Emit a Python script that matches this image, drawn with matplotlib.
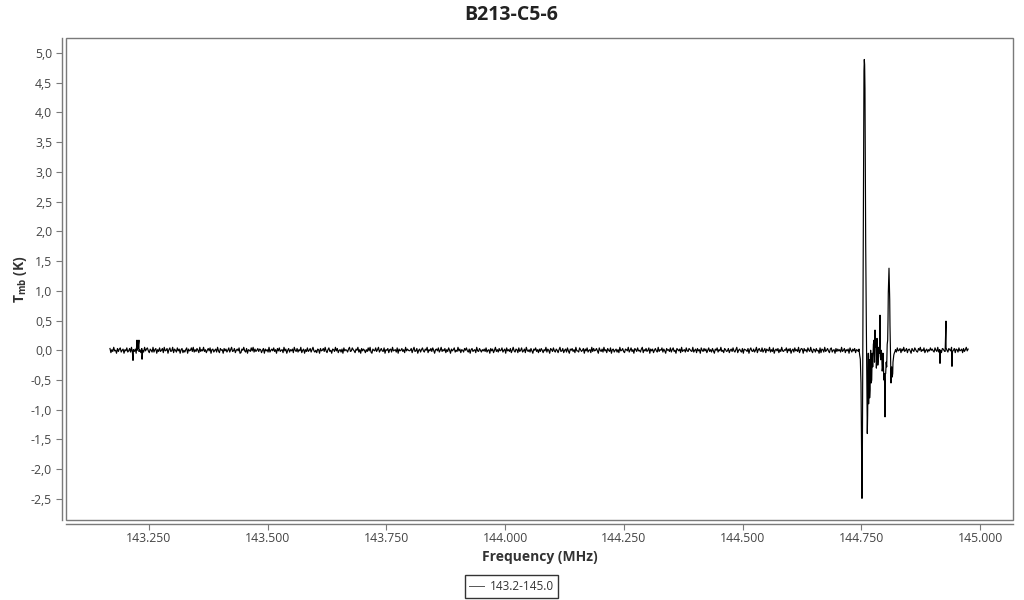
import numpy as np
import matplotlib
matplotlib.use("Agg")
import matplotlib.pyplot as plt
from matplotlib.ticker import FuncFormatter, MultipleLocator
from matplotlib.patches import Rectangle

plt.rcParams['font.family'] = ['Open Sans', 'DejaVu Sans']
plt.rcParams['mathtext.fontset'] = 'custom'
plt.rcParams['mathtext.rm'] = 'Open Sans'
plt.rcParams['mathtext.bf'] = 'Open Sans:bold'

title = "B213-C5-6"
series_name = "143.2-145.0"
x_label = "Frequency (MHz)"
y_label = r"$\mathbf{T_{mb}}$ (K)"

# baseline noise, left part (units: 0.01 K), channels from 143.168 to 144.742
left_start, left_stop = 143.168, 144.742
left_noise_cK = [
    3, -4, 1, -2, 5, -1, 0, -5, 3, -2, 2, 4, -3, 0, 2, -5, 1, -1, 4, -3,
    -1, 3, -3, 5, -4, 1, -2, 2, -5, 0, 4, -2, 1, -4, 3, 0, -3, 5, -1, 2,
    4, -1, -4, 2, 0, -3, 5, -3, 1, 3, -5, 1, -2, 4, -2, 0, 3, -4, 5, -1,
    0, 3, -5, 1, 4, -2, -1, 5, -4, 2, 0, -3, 4, -1, 2, -5, 1, 3, -4, 0,
    -3, 1, 4, -5, 2, -1, 0, 4, -2, 5, -3, 1, -2, 3, 0, -4, 5, -2, 1, -1,
    5, -2, 1, -4, 0, 3, -1, 4, -5, 1, 2, -3, 0, 2, -3, 5, -1, -4, 3, 0,
    1, -5, 3, -1, 2, -3, 0, 4, -3, 1, 5, -2, -1, 3, -4, 0, 2, -1, 4, -5,
    -4, 2, 0, 5, -1, -3, 3, -5, 1, 0, -2, 4, -1, 5, -3, 2, -2, 0, 3, -2,
    2, 1, -4, 0, 3, -5, 2, -1, 1, -3, 5, -3, 0, 2, -1, 4, -2, 1, -5, 3,
    -1, 4, -2, 0, 1, -4, 5, -1, 2, -5, 0, 3, -3, 1, -1, 2, -4, 5, 0, -2,
    3, -3, 1, -1, 5, -4, 0, 2, -5, 1, -2, 4, -2, 0, 3, -3, 1, 5, -1, -3,
    0, -4, 2, 1, -5, 3, -1, 0, 3, -2, 5, -1, -4, 1, 4, -2, 0, -5, 2, 1,
    -2, 5, -1, 3, -4, 0, 1, -3, 2, -5, 4, -1, 1, 0, -3, 2, 5, -2, -1, 4,
    1, -1, -4, 2, 0, 5, -3, 1, -5, 3, -1, 2, 0, -4, 1, -2, 4, -1, 5, -3,
    -5, 2, 0, -1, 4, -2, 1, 5, -3, 0, 3, -1, -2, 4, -5, 1, 0, 3, -4, 1,
    2, -3, 5, -1, 0, 1, -3, 4, -5, 2, -1, 0, 3, -2, 1, -4, 5, -1, 2, 0,
    -1, 0, 3, -4, 1, 5, -2, -1, 3, -5, 0, 2, -3, 1, 4, -1, -3, 2, 0, 5,
    -4, 1, -1, 3, -2, 4, 0, -5, 1, 2, -1, 4, -3, 0, 5, -2, 1, -1, 3, -4,
    1, -2, 4, 0, -5, 2, -1, 1, 4, -3, 0, -2, 5, -1, 2, -4, 1, 0, -3, 3,
    0, 4, -1, -3, 2, -5, 1, 3, -2, 0, 1, -4, 5, -1, -2, 3, 0, -3, 1, -1,
    2, -2, 4, -3, 0, 1, -5, 3, -1, 2, -4, 0, 5, -2, 1, -3, 3, -1, 0, 4,
    -3, 0, 2, -5, 4, -1, 1, -2, 3, -4, 0, 5, -1, -3, 2, 1, -4, 4, -2, 0,
    4, -3, -1, 2, -4, 5, 0, -2, 1, -3, 3, -1, -5, 2, 0, 4, -2, 1, -4, 2,
    -2, 3, 0, -4, 1, -1, 5, -3, 2, 0, -5, 3, 1, -2, 4, -1, -3, 2, 0, -4,
    1, 5, -2, -1, 3, -4, 0, 2, -3, 4, -1, -5, 2, 0, 3, -2, 1, -4, 5, -1,
    -1, -3, 4, 1, -2, 0, 3, -5, 2, -1, 4, -3, 0, 1, -4, 5, -2, 3, -1, 0,
    3, -1, -5, 4, 0, -2, 2, -3, 5, -1, 1, -4, 3, 0, -2, 4, -5, 1, 2, -3,
    0, 2, -3, 1, -4, 5, -1, 0, 3, -2, -4, 2, 1, -1, 5, -3, 0, 4, -2, 1,
    -5, 3, 1, -2, 4, -1, 0, -3, 2, 5, -4, 1, -1, 3, -2, 0, 4, -5, 2, -1,
    2, -4, 0, 3, -1, -3, 5, -2, 1, 0, 4, -3, 2, -1, -5, 3, 0, 1, -2, 4,
    -3, 1, 4, -2, 0, -5, 3, 1, -1, 2, -4, 5, -2, 0, 1, -3, 4, -1, -2, 3,
    1, -1, -2, 5, -3, 0, 2, -4, 3, -1, 1, -5, 4, 0, -2, 3, -1, 2, -4, 0,
    4, -2, 1, -3, 3, -1, -5, 2, 0, 4, -3, 1, -1, 5, -2, 0, -4, 3, 1, -2,
    -1, 3, -4, 0, 2, -2, 4, -1, -3, 1, 5, -4, 0, 2, -1, -3, 3, -5, 2, 1,
    0, -2, 3, -5, 1, 4, -1, -2, 2, -3, 0, 5, -4, 1, 3, -1, -2, 4, -3, 0,
    3, -4, 2, 0, -1, 5, -3, 1, -2, 4, -5, 0, 2, -1, 3, -4, 1, -2, 5, -1,
    -2, 1, 0, 4, -4, 2, -1, 3, -5, 0, 2, -3, 4, -1, 1, -2, 5, -4, 0, 3,
    2, -5, 3, -1, 1, -3, 4, 0, -2, 5, -1, -4, 2, 1, -3, 3, -1, 0, -5, 4,
    -4, 2, 1, -3, 5, -2, 0, 3, -1, -4, 2, 4, -3, 0, 1, -5, 3, -2, 2, -1,
    1, -3, 5, -2, 0, 3, -4, 1, -1, 2, -5, 4, 0, -3, 2, -1, 3, -4, 1, 0,
]

# baseline noise, right part (units: 0.01 K), channels from 144.822 to 144.975
right_start, right_stop = 144.822, 144.975
right_noise_cK = [
    1, -3, 4, -1, 0, 3, -4, 2, -1, 5, -2, 0, 3, -4, 1, 2, -1, -5, 3, 0,
    -2, 4, 1, -2, -3, 3, 0, 5, -2, 1, -1, 4, -4, 0, 2, -3, 1, -1, 4, 0,
    2, -1, -3, 4, 0, -2, 5, -3, 1, 0, -4, 3, 2, -1, -2, 4, 0, -3, 3, 1,
    -1, 5, -2, 0, 3, -4, 2, 1, -3, 4, -1, 0, 2, -4, 3, -2, 1, 5, -1, 2,
]

# isolated spikes
spike_freq = [143.2165, 143.2249, 143.2290, 143.2355, 144.9158, 144.9284, 144.9410]
spike_temp = [-0.17, 0.17, 0.17, -0.15, -0.22, 0.49, -0.27]

# line feature near 144.75 - 144.82
feature_freq = [
    144.7437, 144.7452, 144.7466, 144.7480, 144.7494, 144.7505, 144.7515, 144.7522,
    144.7530, 144.7537, 144.7543, 144.7550, 144.7557, 144.7564, 144.7571, 144.7578,
    144.7586, 144.7593, 144.7600, 144.7607, 144.7614, 144.7620, 144.7627, 144.7634,
    144.7641, 144.7648, 144.7655, 144.7662, 144.7669, 144.7676, 144.7684, 144.7691,
    144.7698, 144.7709, 144.7720, 144.7730, 144.7741, 144.7755, 144.7768, 144.7779,
    144.7789, 144.7800, 144.7810, 144.7818, 144.7825, 144.7831, 144.7837, 144.7848,
    144.7859, 144.7870, 144.7880, 144.7887, 144.7894, 144.7901, 144.7909, 144.7920,
    144.7930, 144.7941, 144.7951, 144.7958, 144.7964, 144.7975, 144.7985, 144.7993,
    144.8000, 144.8007, 144.8014, 144.8025, 144.8035, 144.8046, 144.8056, 144.8063,
    144.8069, 144.8077, 144.8084, 144.8091, 144.8099, 144.8105, 144.8111, 144.8119,
    144.8126, 144.8134, 144.8141, 144.8152, 144.8162, 144.8168, 144.8174, 144.8185,
    144.8195, 144.8210,
]
feature_temp = [
    -0.02, 0.02, -0.08, -0.15, -0.55, -1.60, -2.49, -2.00,
    -0.40, 1.00, 1.85, 3.60, 4.70, 4.89, 4.80, 4.40,
    3.00, 1.80, 1.18, 0.40, -0.30, -0.90, -1.40, -1.10,
    -0.60, -0.05, -0.90, -0.30, -0.16, -0.80, -0.67, -0.10,
    0.00, -0.55, -0.50, -0.05, -0.28, 0.10, 0.17, -0.20,
    0.34, 0.05, 0.17, -0.30, -0.11, 0.20, 0.06, -0.25,
    -0.16, 0.05, -0.05, 0.10, 0.59, -0.10, -0.16, 0.00,
    -0.05, -0.35, -0.28, -0.05, -0.16, -0.50, -0.39, -0.60,
    -1.12, -0.40, -0.39, -0.20, -0.28, 0.10, 0.17, 0.50,
    0.96, 1.20, 1.38, 1.10, 0.85, 0.40, 0.17, -0.20,
    -0.55, -0.30, -0.28, -0.45, -0.39, -0.20, -0.16, -0.08,
    -0.05, -0.02,
]

# assemble the spectrum
lf = np.linspace(left_start, left_stop, len(left_noise_cK))
rf = np.linspace(right_start, right_stop, len(right_noise_cK))
freq = np.concatenate([lf, np.array(feature_freq), rf, np.array(spike_freq)])
temp = np.concatenate([np.array(left_noise_cK) * 0.01, np.array(feature_temp),
                       np.array(right_noise_cK) * 0.01, np.array(spike_temp)])
order = np.argsort(freq, kind="stable")
freq, temp = freq[order], temp[order]

fig = plt.figure(figsize=(10.24, 6.0), dpi=100)
ax = fig.add_axes([66 / 1024, 80 / 600, 947 / 1024, 482 / 600])

line, = ax.plot(freq, temp, color="black", lw=0.85, label=series_name)

ax.set_xlim(143.0754, 145.0695)
ax.set_ylim(-2.854, 5.251)

grey = "#7a7a7a"
ax.add_patch(Rectangle((0, 0), 1, 1, transform=ax.transAxes, fill=False,
                       edgecolor=grey, lw=1.0, clip_on=False, zorder=5))
for s in ("top", "right"):
    ax.spines[s].set_visible(False)
for s in ("left", "bottom"):
    ax.spines[s].set_position(("outward", 3))
    ax.spines[s].set_color(grey)
    ax.spines[s].set_linewidth(1.0)

ax.xaxis.set_major_locator(MultipleLocator(0.25))
ax.yaxis.set_major_locator(MultipleLocator(0.5))
ax.xaxis.set_major_formatter(FuncFormatter(lambda v, p: f"{v:.3f}"))
ax.yaxis.set_major_formatter(FuncFormatter(lambda v, p: f"{v:.1f}".replace(".", ",")))
ax.tick_params(axis="both", colors=grey, labelcolor="#444444", labelsize=8.8,
               length=4, width=0.8, direction="out")
ax.tick_params(axis="x", pad=1.5)
ax.tick_params(axis="y", pad=3)

ax.set_xlabel(x_label, fontsize=10, fontweight="bold", color="#333333", labelpad=4)
ax.set_ylabel(y_label, fontsize=10, fontweight="bold", color="#333333", labelpad=1)
fig.text(0.4995, 0.975, title, ha="center", va="center", fontsize=14,
         fontweight="bold", color="#222222")

leg = fig.legend(handles=[line], loc="center", bbox_to_anchor=(0.4995, 0.0225),
                 fontsize=8.5, frameon=True, fancybox=False, handlelength=1.2,
                 handletextpad=0.5, borderpad=0.4, borderaxespad=0)
leg.get_frame().set_edgecolor("black")
leg.get_frame().set_linewidth(1.0)
leg.get_lines()[0].set_color("#555555")
leg.get_lines()[0].set_linewidth(0.7)
for t in leg.get_texts():
    t.set_color("#333333")

fig.savefig("out.png", dpi=100)
